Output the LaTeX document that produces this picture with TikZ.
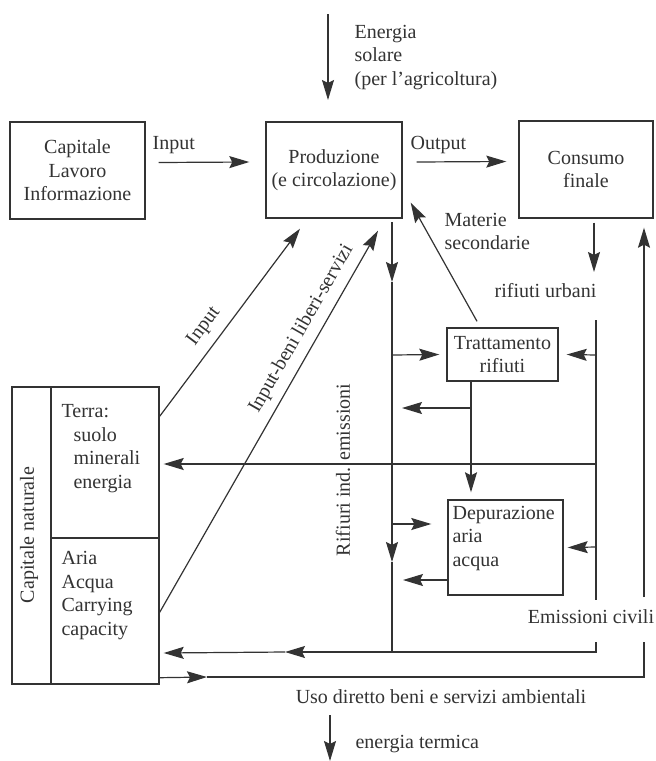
\documentclass[tikz,border=0pt]{standalone}
\usepackage{fontspec}
\setmainfont{Liberation Serif}
\usetikzlibrary{arrows.meta}
\definecolor{ink}{HTML}{333333}
\begin{document}
\begin{tikzpicture}[x=1pt,y=-1pt, line width=1.2pt, color=ink,
  font=\fontsize{20}{23.5}\selectfont,
  box/.style={draw=ink, line width=1.4pt, inner sep=0pt, align=center},
  lbl/.style={inner sep=0pt, text=ink},
  arr/.style={-{Stealth[length=20pt,width=12pt,inset=3pt]}}]
\useasboundingbox (0,0) rectangle (656,761);
\fill[white] (0,0) rectangle (656,761);

% main boxes
\node[box, minimum width=135pt, minimum height=97pt] (cap) at (77.5,170.5) {Capitale\\Lavoro\\Informazione};
\node[box, minimum width=136pt, minimum height=96pt] (prod) at (334,170) {Produzione\\(e circolazione)};
\node[box, minimum width=134pt, minimum height=97pt] (cons) at (586,169.5) {Consumo\\finale};
\node[box, minimum width=111pt, minimum height=53pt] (tratt) at (502.5,354.5) {Trattamento\\rifiuti};
\node[box, minimum width=115pt, minimum height=95pt] (dep) at (505.5,547.5) {};
\node[lbl, anchor=base west, align=left] (deptext) at (452,566) {Depurazione\\aria\\acqua};

% natural capital
\node[box, minimum width=39pt, minimum height=297pt] (natlab) at (31.5,535.5) {};
\node[lbl, rotate=90] (nattext) at (29,535) {Capitale naturale};
\node[box, minimum width=108pt, minimum height=151pt] (terra) at (105,462.5) {};
\node[box, minimum width=108pt, minimum height=146pt] (aria) at (105,611) {};
\node[lbl, anchor=base west, align=left] (terratext) at (61,488) {Terra:\\\hspace*{12pt}suolo\\\hspace*{12pt}minerali\\\hspace*{12pt}energia};
\node[lbl, anchor=base west, align=left] (ariatext) at (61,635) {Aria\\Acqua\\Carrying\\capacity};

% solar energy
\coordinate (sunTop) at (328,14);
\coordinate (sunEnd) at (328,100);
\draw[arr] (sunTop) -- (sunEnd);
\node[lbl, anchor=base west, align=left] (solar) at (354,85) {Energia\\solare\\(per l’agricoltura)};

% input / output
\draw[arr] ([xshift=13pt,yshift=8pt]cap.east) -- ([xshift=-16pt,yshift=8pt]prod.west);
\node[lbl, anchor=base west] (inlbl) at (152,149) {Input};
\draw[arr] ([xshift=14pt,yshift=8pt]prod.east) -- ([xshift=-12pt,yshift=8pt]cons.west);
\node[lbl, anchor=base west] (outlbl) at (410,149) {Output};

% diagonals
\draw[arr] ([yshift=-30pt]terra.north east) -- node[lbl, sloped, above=9pt, pos=0.42] {Input} ([xshift=-34pt,yshift=-10pt]prod.south);
\draw[arr] ([yshift=-75pt]aria.north east) -- node[lbl, sloped, above=8pt, pos=0.72] {Input-beni liberi-servizi} ([xshift=44pt,yshift=-12pt]prod.south);

% materie secondarie
\draw[arr] ([xshift=-25.5pt,yshift=6pt]tratt.north) -- ([xshift=8pt,yshift=16pt]prod.south east);
\node[lbl, anchor=base west, align=left] (matlbl) at (444,249.5) {Materie\\secondarie};

% left vertical (industrial waste)
\coordinate (Lt) at (392,222);
\coordinate (La1) at (392,282);
\coordinate (La2) at (392,562);
\coordinate (Lb) at (392,652);
\draw[arr] (Lt) -- (La1);
\draw[arr] (La1) -- (La2);
\draw (La2) -- (Lb);
\coordinate (Lm1) at (392,355);
\coordinate (Lm2) at (392,524);
\draw[arr] (Lm1) -- ([xshift=-7pt]tratt.west);
\draw[arr] (Lm2) -- ([xshift=-16pt,yshift=23.5pt]dep.west);
\node[lbl, rotate=90] (rifind) at (343,470) {Rifiuri ind. emissioni};

% consumption waste
\coordinate (Ca) at (594,272);
\draw[arr] ([xshift=8pt,yshift=-4pt]cons.south) -- (Ca);
\node[lbl, anchor=base] (rurb) at (545.5,297) {rifiuti urbani};
\coordinate (Rt) at (596,320);
\coordinate (Rb) at (596,600);
\draw (Rt) -- (Rb);
\coordinate (Rm1) at (596,355);
\coordinate (Rm2) at (596,464);
\coordinate (Rm3) at (596,547);
\draw[arr] (Rm1) -- ([xshift=8pt]tratt.east);
\draw[arr] (Rm2) -- ([xshift=4pt,yshift=-1.5pt]terra.east);
\draw[arr] (Rm3) -- ([xshift=4pt]dep.east);

% treatment
\coordinate (Tm) at (471,408);
\coordinate (Tl) at (402,408);
\draw[arr] ([xshift=-31.5pt]tratt.south) -- ([xshift=-34.5pt,yshift=7pt]dep.north);
\draw[arr] (Tm) -- (Tl);
\coordinate (Dl) at (403,580);
\draw[arr] ([yshift=-32.5pt]dep.west) -- (Dl);

% civil emissions loop
\node[lbl, anchor=base] (emciv) at (591,623.5) {Emissioni civili};
\coordinate (Eb) at (596,642);
\coordinate (Ec) at (596,652);
\coordinate (Em) at (285,652);
\draw (Eb) -- (Ec) -- (Lb);
\draw[arr] (Lb) -- (Em);
\draw[arr] (Em) -- ([xshift=4pt,yshift=-42pt]aria.east);

% direct use
\coordinate (Um) at (207,677);
\coordinate (Uc) at (644,677);
\coordinate (Ut) at (644,642);
\coordinate (Ub) at (644,597);
\draw[arr] ([yshift=7pt]aria.south east) -- (Um);
\draw (Um) -- (Uc) -- (Ut);
\draw[arr] (Ub) -- ([xshift=58pt,yshift=-9pt]cons.south);
\node[lbl, anchor=base] (uso) at (441,703) {Uso diretto beni e servizi ambientali};

% thermal energy
\coordinate (ht1) at (330,715);
\coordinate (ht2) at (330,761);
\draw[arr] (ht1) -- (ht2);
\node[lbl, anchor=base west] (term) at (355,748) {energia termica};
\end{tikzpicture}
\end{document}
